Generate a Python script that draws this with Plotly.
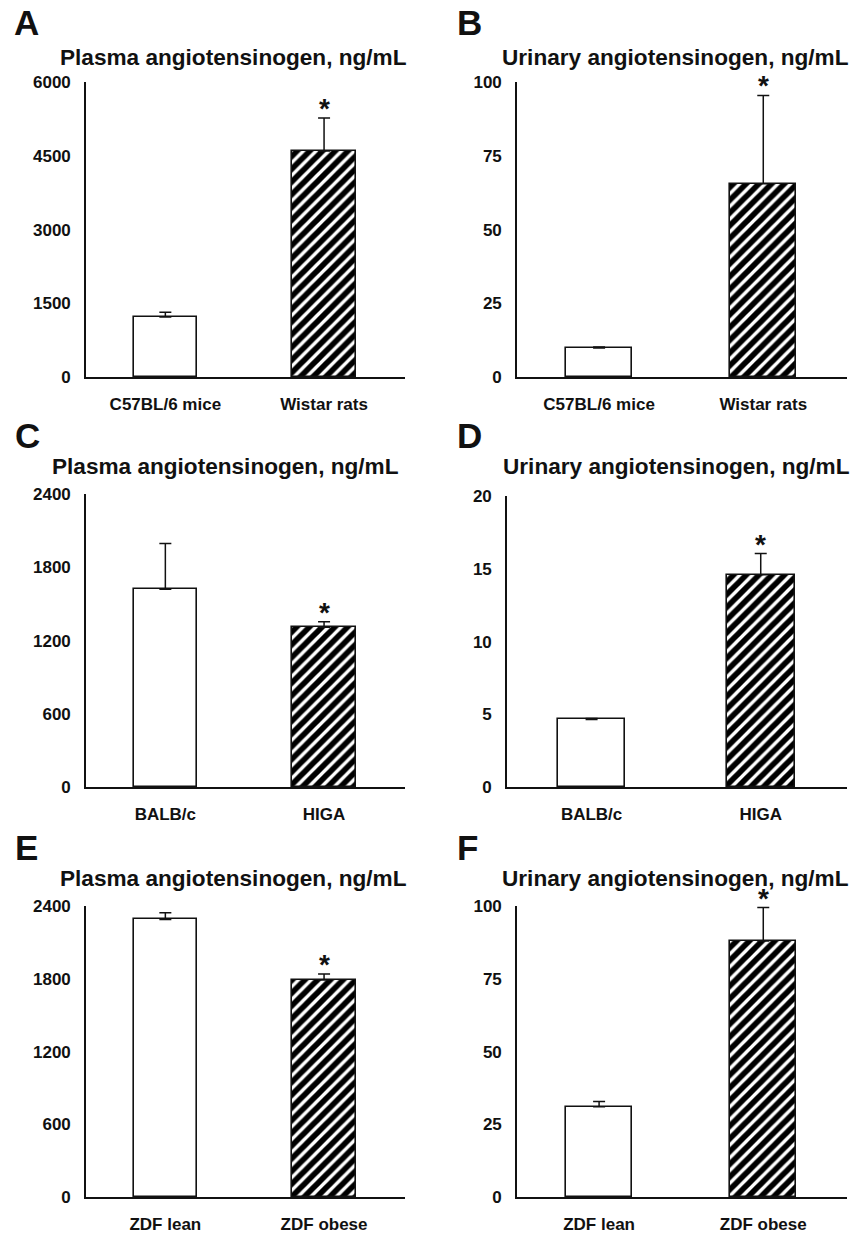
import plotly.graph_objects as go

W, H = 853, 1233

# ---------------- data ----------------
cats_ab = ["C57BL/6 mice", "Wistar rats"]
cats_cd = ["BALB/c", "HIGA"]
cats_ef = ["ZDF lean", "ZDF obese"]

plasma_a = [1220, 4600]
plasma_a_err = [100, 670]
urine_b = [9.8, 65.5]
urine_b_err = [0.4, 30]

plasma_c = [1620, 1310]
plasma_c_err = [375, 45]
urine_d = [4.65, 14.6]
urine_d_err = [0.06, 1.45]

plasma_e = [2290, 1790]
plasma_e_err = [55, 50]
urine_f = [31, 88]
urine_f_err = [1.8, 11.5]

ticks_plasma_a = [0, 1500, 3000, 4500, 6000]
ticks_urine = [0, 25, 50, 75, 100]
ticks_plasma_ce = [0, 600, 1200, 1800, 2400]
ticks_urine_d = [0, 5, 10, 15, 20]

title_plasma = "Plasma angiotensinogen, ng/mL"
title_urine = "Urinary angiotensinogen, ng/mL"
sig = [False, True]

FONT = "Liberation Sans, Arial, sans-serif"
INK = "#111111"

# panel specs: letter, cats, vals, errs, ticks, title, axis px (x0,x1,ybottom,ytop), letter pos, title left/y
panels = [
    ("A", cats_ab, plasma_a, plasma_a_err, ticks_plasma_a, title_plasma, (86, 405, 377, 82), (12, 22), (58, 57)),
    ("B", cats_ab, urine_b, urine_b_err, ticks_urine, title_urine, (517, 847, 377, 82), (455, 22), (500, 57)),
    ("C", cats_cd, plasma_c, plasma_c_err, ticks_plasma_ce, title_plasma, (86, 405, 787, 494), (13, 435), (50, 467)),
    ("D", cats_cd, urine_d, urine_d_err, ticks_urine_d, title_urine, (507, 847, 787, 496), (455, 435), (501, 467)),
    ("E", cats_ef, plasma_e, plasma_e_err, ticks_plasma_ce, title_plasma, (86, 405, 1197, 906), (13, 847), (58, 878)),
    ("F", cats_ef, urine_f, urine_f_err, ticks_urine, title_urine, (517, 847, 1197, 906), (455, 847), (500, 878)),
]

fig = go.Figure()
annotations = []
layout = {}

for i, (letter, cats, vals, errs, ticks, title, ax, lpos, tpos) in enumerate(panels):
    n = "" if i == 0 else str(i + 1)
    xa, ya = "x" + n, "y" + n
    x0, x1, yb, yt = ax
    fig.add_trace(go.Bar(
        x=[0, 1], y=vals, xaxis=xa, yaxis=ya, width=0.40,
        marker=dict(
            color="white",
            line=dict(color=INK, width=1.6),
            pattern=dict(shape=["", "/"], fgcolor="black", bgcolor="white",
                         fgopacity=1, size=9, solidity=0.63),
        ),
        error_y=dict(type="data", symmetric=False, array=errs, arrayminus=[0, 0],
                     color=INK, thickness=1.5, width=6),
        showlegend=False, hoverinfo="skip",
    ))
    layout["xaxis" + n] = dict(
        domain=[x0 / W, x1 / W], anchor=ya, range=[-0.5, 1.51], automargin=False,
        tickvals=[0, 1], ticktext=cats, showline=True, linecolor=INK, linewidth=1.6,
        showgrid=False, zeroline=False, ticks="", ticklabelstandoff=11,
        tickfont=dict(family=FONT, size=17, color=INK, weight="bold"),
        fixedrange=True,
    )
    layout["yaxis" + n] = dict(
        domain=[1 - yb / H, 1 - yt / H], anchor=xa, range=[0, ticks[-1] * 1.0005], automargin=False,
        tickvals=ticks, showline=True, linecolor=INK, linewidth=1.6,
        showgrid=False, zeroline=False, ticks="", ticklabelstandoff=10,
        tickfont=dict(family=FONT, size=17, color=INK, weight="bold"),
        fixedrange=True,
    )
    annotations.append(dict(
        text=letter, xref="paper", yref="paper", x=lpos[0] / W, y=1 - lpos[1] / H,
        xanchor="left", yanchor="middle", showarrow=False,
        font=dict(family=FONT, size=35, color=INK, weight="bold"),
    ))
    annotations.append(dict(
        text=title, xref="paper", yref="paper", x=tpos[0] / W, y=1 - tpos[1] / H,
        xanchor="left", yanchor="middle", showarrow=False,
        font=dict(family=FONT, size=22.6, color=INK, weight="bold"),
    ))
    for j in range(2):
        if sig[j]:
            annotations.append(dict(
                text="*", xref=xa, yref=ya, x=j, y=vals[j] + errs[j],
                xanchor="center", yanchor="bottom", yshift=-8, showarrow=False,
                font=dict(family=FONT, size=28, color=INK, weight="bold"),
            ))

fig.update_layout(
    width=W, height=H, margin=dict(l=0, r=0, t=0, b=0, autoexpand=False),
    paper_bgcolor="white", plot_bgcolor="white",
    annotations=annotations, showlegend=False, bargap=0,
    **layout,
)

fig.write_html(
    "out.html",
    config={"displayModeBar": False},
    post_script="document.body.style.margin='0';document.body.style.overflow='hidden';",
)
